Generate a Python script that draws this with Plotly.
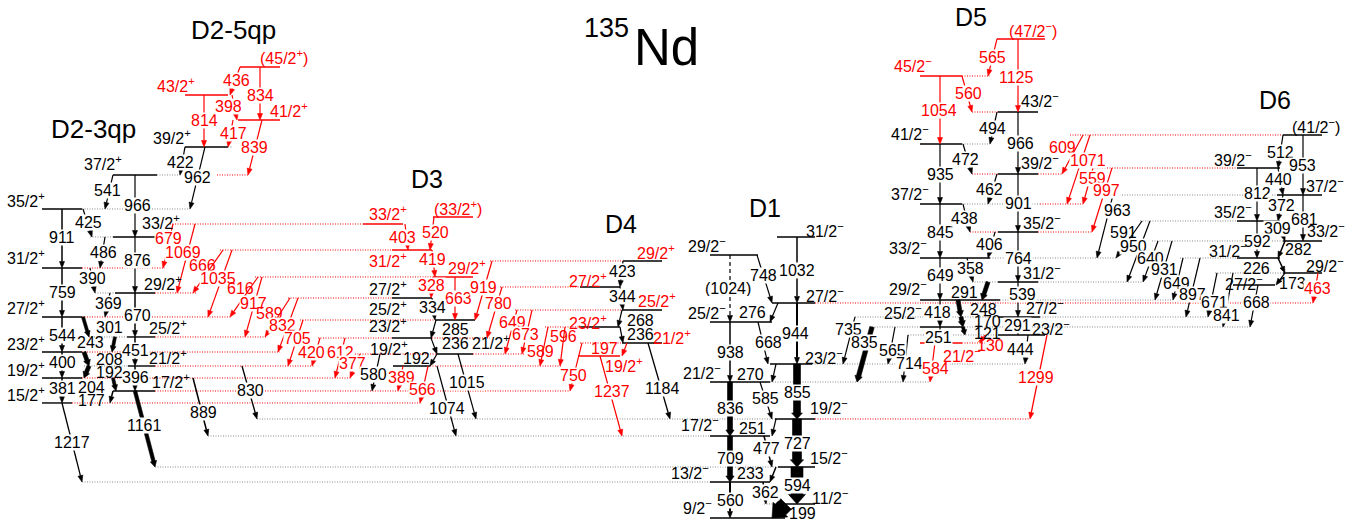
import math
import plotly.graph_objects as go

FONT = "Liberation Sans, Arial, sans-serif"
LABEL_SIZE = 16
KEV_PER_PX = 15.5      # vertical drawing scale
Y_ZERO_PX = 518        # pixel row of the 9/2- ground level
W, H = 1370, 525

# ------------------------------------------------------------------
# DATA: levels (id, spin-parity, energy in keV as drawn)
# ------------------------------------------------------------------
D1_LEVELS = [
    ("d1_9", "9/2-", 0), ("d1_11", "11/2-", 217), ("d1_13", "13/2-", 558),
    ("d1_15", "15/2-", 791), ("d1_17", "17/2-", 1271), ("d1_19", "19/2-", 1535),
    ("d1_21", "21/2-", 2108), ("d1_23", "23/2-", 2387), ("d1_25", "25/2-", 3038),
    ("d1_27", "27/2-", 3333), ("d1_29", "29/2-", 4077), ("d1_31", "31/2-", 4356),
]
D2_LEVELS = [
    ("d2_15", "15/2+", 1783), ("d2_17", "17/2+", 1969), ("d2_19", "19/2+", 2170),
    ("d2_21", "21/2+", 2356), ("d2_23", "23/2+", 2573), ("d2_25", "25/2+", 2806),
    ("d2_27", "27/2+", 3116), ("d2_29", "29/2+", 3488), ("d2_31", "31/2+", 3875),
    ("d2_33", "33/2+", 4356), ("d2_35", "35/2+", 4790), ("d2_37", "37/2+", 5317),
    ("d2_39", "39/2+", 5751), ("d2_41", "41/2+", 6169), ("d2_43", "43/2+", 6557),
    ("d2_45", "(45/2+)", 6991),
]
D3_LEVELS = [
    ("d3_19", "19/2+", 2356), ("d3_21", "21/2+", 2542), ("d3_23", "23/2+", 2790),
    ("d3_25", "25/2+", 3069), ("d3_27", "27/2+", 3410), ("d3_29", "29/2+", 3736),
    ("d3_31", "31/2+", 4154), ("d3_33", "33/2+", 4557), ("d3_33b", "(33/2+)", 4666),
]
D4_LEVELS = [
    ("d4_19", "19/2+", 2511), ("d4_21", "21/2+", 2713), ("d4_23", "23/2+", 2961),
    ("d4_25", "25/2+", 3224), ("d4_27", "27/2+", 3581), ("d4_29", "29/2+", 3984),
]
D5_LEVELS = [
    ("d5_21", "21/2-", 2713), ("d5_23", "23/2-", 2837), ("d5_25", "25/2-", 2961),
    ("d5_27", "27/2-", 3116), ("d5_29", "29/2-", 3379), ("d5_31", "31/2-", 3658),
    ("d5_33", "33/2-", 4030), ("d5_35", "35/2-", 4433), ("d5_37", "37/2-", 4867),
    ("d5_39", "39/2-", 5332), ("d5_41", "41/2-", 5797), ("d5_43", "43/2-", 6293),
    ("d5_45", "45/2-", 6851), ("d5_47", "(47/2-)", 7425),
]
D6_LEVELS = [
    ("d6_27", "27/2-", 3612), ("d6_29", "29/2-", 3798), ("d6_31", "31/2-", 4030),
    ("d6_33", "33/2-", 4294), ("d6_35", "35/2-", 4604), ("d6_37", "37/2-", 5007),
    ("d6_39", "39/2-", 5425), ("d6_41", "(41/2-)", 5937),
]

# DATA: gamma transitions (energy label, initial level, final level)
D1_GAMMAS = [
    ("1032", "d1_31", "d1_27"), ("748", "d1_29", "d1_27"), ("(1024)", "d1_29", "d1_25"),
    ("276", "d1_27", "d1_25"), ("944", "d1_27", "d1_23"), ("668", "d1_25", "d1_23"),
    ("938", "d1_25", "d1_21"), ("270", "d1_23", "d1_21"), ("855", "d1_23", "d1_19"),
    ("836", "d1_21", "d1_17"), ("585", "d1_21", "d1_19"), ("251", "d1_19", "d1_17"),
    ("727", "d1_19", "d1_15"), ("709", "d1_17", "d1_13"), ("477", "d1_17", "d1_15"),
    ("233", "d1_15", "d1_13"), ("594", "d1_15", "d1_11"), ("560", "d1_13", "d1_9"),
    ("362", "d1_13", "d1_11"), ("199", "d1_11", "d1_9"),
]
D2_GAMMAS = [
    ("1217", "d2_15", "d1_13"), ("381", "d2_19", "d2_15"), ("400", "d2_23", "d2_19"),
    ("544", "d2_27", "d2_23"), ("759", "d2_31", "d2_27"), ("911", "d2_35", "d2_31"),
    ("1161", "d2_17", "d1_15"), ("396", "d2_21", "d2_17"), ("451", "d2_25", "d2_21"),
    ("670", "d2_29", "d2_25"), ("876", "d2_33", "d2_29"), ("966", "d2_37", "d2_33"),
    ("541", "d2_37", "d2_35"), ("425", "d2_35", "d2_33"), ("486", "d2_33", "d2_31"),
    ("390", "d2_31", "d2_29"), ("369", "d2_29", "d2_27"), ("301", "d2_27", "d2_25"),
    ("243", "d2_25", "d2_23"), ("208", "d2_23", "d2_21"), ("192", "d2_21", "d2_19"),
    ("204", "d2_19", "d2_17"), ("177", "d2_17", "d2_15"), ("422", "d2_39", "d2_37"),
    ("962", "d2_39", "d2_35"), ("814", "d2_43", "d2_39"), ("436", "d2_45", "d2_43"),
    ("834", "d2_45", "d2_41"), ("398", "d2_43", "d2_41"), ("417", "d2_41", "d2_39"),
    ("839", "d2_41", "d2_37"), ("830", "d2_21", "d1_19"), ("889", "d2_19", "d1_17"),
]
D3_GAMMAS = [
    ("520", "d3_33b", "d3_31"), ("403", "d3_33", "d3_31"), ("419", "d3_31", "d3_29"),
    ("328", "d3_29", "d3_27"), ("663", "d3_29", "d3_25"), ("334", "d3_27", "d3_25"),
    ("285", "d3_25", "d3_23"), ("236", "d3_23", "d3_21"), ("192", "d3_21", "d3_19"),
    ("1015", "d3_21", "d1_19"), ("1074", "d3_19", "d1_17"),
    ("679", "d3_33", "d2_31"), ("1069", "d3_33", "d2_29"), ("666", "d3_31", "d2_29"),
    ("1035", "d3_31", "d2_27"), ("616", "d3_29", "d2_27"), ("917", "d3_29", "d2_25"),
    ("589", "d3_27", "d2_25"), ("832", "d3_27", "d2_23"), ("705", "d3_25", "d2_21"),
    ("420", "d3_23", "d2_21"), ("612", "d3_23", "d2_19"), ("377", "d3_21", "d2_19"),
    ("580", "d3_21", "d2_17"), ("389", "d3_19", "d2_17"), ("566", "d3_19", "d2_15"),
]
D4_GAMMAS = [
    ("423", "d4_29", "d4_27"), ("344", "d4_27", "d4_25"), ("268", "d4_25", "d4_23"),
    ("236", "d4_23", "d4_21"), ("197", "d4_21", "d4_19"), ("1237", "d4_19", "d1_17"),
    ("1184", "d4_21", "d1_19"), ("750", "d4_21", "d2_17"), ("919", "d4_29", "d3_25"),
    ("780", "d4_27", "d3_23"), ("649", "d4_25", "d3_21"), ("673", "d4_25", "d3_21"),
    ("596", "d4_23", "d3_19"), ("589", "d4_23", "d3_19"),
]
D5_GAMMAS = [
    ("565", "d5_47", "d5_45"), ("1125", "d5_47", "d5_43"), ("1054", "d5_45", "d5_41"),
    ("560", "d5_45", "d5_43"), ("494", "d5_43", "d5_41"), ("966", "d5_43", "d5_39"),
    ("935", "d5_41", "d5_37"), ("472", "d5_41", "d5_39"), ("462", "d5_39", "d5_37"),
    ("901", "d5_39", "d5_35"), ("845", "d5_37", "d5_33"), ("438", "d5_37", "d5_35"),
    ("406", "d5_35", "d5_33"), ("764", "d5_35", "d5_31"), ("649", "d5_33", "d5_29"),
    ("358", "d5_33", "d5_31"), ("291", "d5_31", "d5_29"), ("539", "d5_31", "d5_27"),
    ("418", "d5_29", "d5_25"), ("248", "d5_29", "d5_27"), ("170", "d5_27", "d5_25"),
    ("251", "d5_25", "d5_21"), ("291", "d5_27", "d5_23"), ("121", "d5_25", "d5_23"),
    ("130", "d5_23", "d5_21"), ("444", "d5_23", "d1_23"), ("1299", "d5_23", "d1_19"),
    ("735", "d5_27", "d1_23"), ("835", "d5_25", "d1_21"), ("565", "d5_25", "d1_23"),
    ("714", "d5_23", "d1_21"), ("584", "d5_21", "d1_21"),
]
D6_GAMMAS = [
    ("512", "d6_41", "d6_39"), ("953", "d6_41", "d6_37"), ("440", "d6_39", "d6_37"),
    ("812", "d6_39", "d6_35"), ("372", "d6_37", "d6_35"), ("681", "d6_37", "d6_33"),
    ("309", "d6_35", "d6_33"), ("592", "d6_35", "d6_31"), ("282", "d6_33", "d6_31"),
    ("226", "d6_31", "d6_29"), ("173", "d6_29", "d6_27"), ("463", "d6_29", "d1_27"),
    ("609", "d6_41", "d5_39"), ("1071", "d6_41", "d5_37"), ("559", "d6_39", "d5_37"),
    ("997", "d6_39", "d5_35"), ("963", "d6_37", "d5_33"), ("591", "d6_35", "d5_33"),
    ("950", "d6_35", "d5_31"), ("640", "d6_33", "d5_31"), ("931", "d6_33", "d5_29"),
    ("649", "d6_31", "d5_29"), ("897", "d6_31", "d5_27"), ("671", "d6_29", "d5_27"),
    ("841", "d6_29", "d5_25"), ("668", "d6_27", "d5_25"),
]

BAND_TITLES = ["D2-5qp", "D2-3qp", "D3", "D4", "D1", "D5", "D6"]

# ------------------------------------------------------------------
# LAYOUT (horizontal placement, label placement in px, styles)
# level: (x0, x1, line colour, label x, label y px, label colour)
# ------------------------------------------------------------------
LEVEL_GEOM = {
    "d1_9": (710, 785, 'k', 697, 507, 'k'), "d1_11": (778, 815, 'k', 830, 497, 'k'),
    "d1_13": (710, 770, 'k', 690, 472, 'k'), "d1_15": (778, 815, 'k', 829, 457, 'k'),
    "d1_17": (710, 770, 'k', 700, 424, 'k'), "d1_19": (775, 815, 'k', 829, 407, 'k'),
    "d1_21": (710, 770, 'k', 702, 372, 'k'), "d1_23": (770, 812, 'k', 824, 357, 'k'),
    "d1_25": (710, 772, 'k', 707, 312, 'k'), "d1_27": (772, 815, 'k', 825, 295, 'k'),
    "d1_29": (710, 758, 'k', 707, 245, 'k'), "d1_31": (777, 815, 'k', 825, 230, 'k'),
    "d2_15": (42, 72, 'k', 26, 394, 'k'), "d2_17": (113, 155, 'k', 171, 381, 'k'),
    "d2_19": (42, 82, 'k', 26, 369, 'k'), "d2_21": (128, 155, 'k', 168, 357, 'k'),
    "d2_23": (42, 82, 'k', 26, 343, 'k'), "d2_25": (127, 155, 'k', 168, 327, 'k'),
    "d2_27": (42, 82, 'k', 26, 307, 'k'), "d2_29": (115, 155, 'k', 163, 283, 'k'),
    "d2_31": (42, 82, 'k', 26, 257, 'k'), "d2_33": (113, 155, 'k', 161, 222, 'k'),
    "d2_35": (42, 82, 'k', 26, 200, 'k'), "d2_37": (113, 157, 'k', 103, 163, 'k'),
    "d2_39": (185, 228, 'k', 172, 137, 'k'), "d2_41": (238, 280, 'r', 289, 110, 'r'),
    "d2_43": (185, 228, 'r', 176, 85, 'r'), "d2_45": (240, 280, 'r', 284, 57, 'r'),
    "d3_19": (393, 430, 'k', 389, 348, 'k'), "d3_21": (437, 473, 'k', 491, 342, 'k'),
    "d3_23": (392, 432, 'k', 388, 325, 'k'), "d3_25": (435, 475, 'k', 388, 308, 'k'),
    "d3_27": (392, 432, 'k', 388, 288, 'k'), "d3_29": (433, 473, 'r', 467, 267, 'r'),
    "d3_31": (392, 432, 'r', 388, 260, 'r'), "d3_33": (363, 403, 'r', 388, 213, 'r'),
    "d3_33b": (433, 473, 'r', 458, 208, 'r'),
    "d4_19": (578, 620, 'r', 624, 365, 'r'), "d4_21": (622, 662, 'k', 672, 337, 'r'),
    "d4_23": (580, 620, 'k', 588, 322, 'r'), "d4_25": (622, 662, 'k', 657, 300, 'r'),
    "d4_27": (580, 620, 'k', 588, 280, 'r'), "d4_29": (623, 662, 'k', 656, 252, 'r'),
    "d5_21": (920, 962, 'r', 962, 355, 'r'), "d5_23": (998, 1045, 'k', 1051, 328, 'k'),
    "d5_25": (920, 962, 'k', 903, 312, 'k'), "d5_27": (998, 1040, 'k', 1045, 307, 'k'),
    "d5_29": (920, 1000, 'k', 908, 288, 'k'), "d5_31": (998, 1038, 'k', 1042, 272, 'k'),
    "d5_33": (920, 990, 'k', 908, 247, 'k'), "d5_35": (998, 1038, 'k', 1042, 222, 'k'),
    "d5_37": (920, 962, 'k', 910, 193, 'k'), "d5_39": (998, 1038, 'k', 1040, 162, 'k'),
    "d5_41": (920, 962, 'k', 910, 133, 'k'), "d5_43": (998, 1038, 'k', 1040, 100, 'k'),
    "d5_45": (920, 962, 'r', 913, 65, 'r'), "d5_47": (997, 1045, 'r', 1033, 30, 'r'),
    "d6_27": (1233, 1275, 'k', 1244, 283, 'k'), "d6_29": (1283, 1322, 'k', 1325, 265, 'k'),
    "d6_31": (1237, 1280, 'k', 1228, 250, 'k'), "d6_33": (1283, 1322, 'k', 1326, 230, 'k'),
    "d6_35": (1237, 1280, 'k', 1233, 211, 'k'), "d6_37": (1277, 1322, 'k', 1325, 185, 'k'),
    "d6_39": (1237, 1280, 'k', 1233, 159, 'k'), "d6_41": (1283, 1322, 'k', 1316, 126, 'k'),
}
# dotted extensions of levels: (level, x from, x to, colour)
LEVEL_EXT = [
    ("d1_13", 82, 710, 'g'), ("d1_15", 155, 778, 'g'), ("d1_17", 208, 710, 'g'),
    ("d1_19", 257, 775, 'g'), ("d1_19", 815, 1030, 'r'), ("d1_21", 770, 930, 'g'),
    ("d1_23", 812, 1025, 'g'), ("d1_27", 815, 1313, 'r'), ("d1_11", 764, 778, 'g'),
    ("d2_15", 72, 422, 'r'), ("d2_17", 155, 570, 'r'), ("d2_19", 82, 352, 'r'),
    ("d2_21", 155, 315, 'r'), ("d2_21", 84, 128, 'g'), ("d2_23", 82, 280, 'r'),
    ("d2_25", 155, 267, 'r'), ("d2_25", 89, 127, 'g'), ("d2_27", 82, 232, 'r'),
    ("d2_29", 155, 197, 'r'), ("d2_29", 95, 115, 'g'), ("d2_31", 82, 165, 'r'),
    ("d2_33", 90, 113, 'g'), ("d2_35", 82, 190, 'g'), ("d2_37", 157, 182, 'g'),
    ("d2_37", 217, 248, 'r'), ("d2_39", 228, 232, 'g'),
    ("d3_33", 170, 363, 'r'), ("d3_31", 220, 392, 'r'), ("d3_29", 255, 433, 'r'),
    ("d3_27", 288, 392, 'r'), ("d3_25", 300, 435, 'r'), ("d3_23", 318, 392, 'r'),
    ("d3_23", 432, 490, 'r'), ("d3_21", 355, 437, 'r'), ("d3_21", 473, 525, 'r'),
    ("d3_19", 430, 562, 'r'),
    ("d4_29", 490, 623, 'r'), ("d4_27", 500, 580, 'r'), ("d4_25", 515, 622, 'r'),
    ("d4_23", 545, 580, 'r'), ("d4_21", 580, 622, 'r'),
    ("d5_45", 962, 990, 'r'), ("d5_43", 972, 998, 'r'), ("d5_41", 962, 990, 'g'),
    ("d5_39", 972, 998, 'r'), ("d5_39", 1038, 1062, 'r'), ("d5_37", 962, 1040, 'g'),
    ("d5_37", 1040, 1083, 'r'), ("d5_35", 970, 998, 'r'), ("d5_35", 1038, 1092, 'r'),
    ("d5_33", 990, 1116, 'g'), ("d5_31", 972, 998, 'g'), ("d5_31", 1038, 1143, 'g'),
    ("d5_29", 1000, 1173, 'g'), ("d5_27", 855, 998, 'g'), ("d5_27", 1040, 1208, 'g'),
    ("d5_25", 872, 920, 'g'), ("d5_25", 962, 1250, 'g'), ("d5_23", 908, 998, 'g'),
    ("d5_21", 962, 985, 'r'),
    ("d6_41", 1070, 1283, 'r'), ("d6_39", 1092, 1237, 'r'), ("d6_37", 1112, 1277, 'g'),
    ("d6_35", 1140, 1237, 'g'), ("d6_33", 1152, 1283, 'g'), ("d6_31", 1180, 1237, 'g'),
    ("d6_29", 1215, 1283, 'g'),
]
# gamma drawing: key "label@initial" -> (x at top, x at bottom, width px, colour, label x, label y px)
GAMMA_DRAW = {
    "1032@d1_31": (797, 797, 1.5, 'k', 797, 270), "748@d1_29": (757, 772, 1.2, 'k', 763, 275),
    "(1024)@d1_29": (730, 730, 1.2, 'kd', 728, 288), "276@d1_27": (778, 770, 1.2, 'k', 752, 312),
    "944@d1_27": (797, 797, 2.0, 'k', 795, 333), "668@d1_25": (758, 768, 1.2, 'k', 768, 342),
    "938@d1_25": (730, 730, 1.5, 'k', 730, 352), "270@d1_23": (776, 772, 1.2, 'k', 750, 374),
    "855@d1_23": (797, 797, 7, 'k', 797, 392), "836@d1_21": (730, 730, 5, 'k', 730, 408),
    "585@d1_21": (760, 772, 1.2, 'k', 765, 398), "251@d1_19": (776, 772, 1.2, 'k', 752, 428),
    "727@d1_19": (797, 797, 9, 'k', 797, 443), "709@d1_17": (730, 730, 5, 'k', 730, 458),
    "477@d1_17": (764, 772, 1.5, 'k', 766, 448), "233@d1_15": (776, 770, 1.5, 'k', 750, 473),
    "594@d1_15": (797, 797, 12, 'k', 797, 485), "560@d1_13": (730, 730, 2.0, 'k', 730, 500),
    "362@d1_13": (763, 766, 1.5, 'k', 765, 492), "199@d1_11": (786, 772, 15, 'k', 802, 513),
    "1217@d2_15": (62, 82, 1.3, 'k', 72, 442), "381@d2_19": (62, 62, 1.5, 'k', 62, 388),
    "400@d2_23": (62, 62, 1.5, 'k', 62, 362), "544@d2_27": (62, 62, 1.5, 'k', 62, 335),
    "759@d2_31": (62, 62, 1.5, 'k', 62, 292), "911@d2_35": (62, 62, 1.5, 'k', 62, 237),
    "1161@d2_17": (135, 155, 3.5, 'k', 144, 425), "396@d2_21": (135, 135, 1.5, 'k', 135, 377),
    "451@d2_25": (135, 135, 1.5, 'k', 135, 350), "670@d2_29": (135, 135, 1.5, 'k', 137, 315),
    "876@d2_33": (135, 135, 1.2, 'k', 137, 260), "966@d2_37": (135, 135, 1.2, 'k', 137, 205),
    "541@d2_37": (113, 105, 1.2, 'k', 107, 190), "425@d2_35": (83, 92, 1.2, 'k', 88, 222),
    "486@d2_33": (105, 100, 1.2, 'k', 103, 252), "390@d2_31": (90, 95, 1.2, 'k', 92, 278),
    "369@d2_29": (110, 105, 1.2, 'k', 108, 303), "301@d2_27": (83, 89, 3, 'k', 109, 327),
    "243@d2_25": (115, 112, 3, 'k', 90, 342), "208@d2_23": (84, 89, 4, 'k', 109, 359),
    "192@d2_21": (89, 84, 4, 'k', 109, 372), "204@d2_19": (113, 116, 3, 'k', 91, 387),
    "177@d2_17": (113, 110, 1.5, 'k', 91, 400), "422@d2_39": (185, 180, 1.2, 'k', 180, 162),
    "962@d2_39": (205, 190, 1.2, 'k', 197, 177), "814@d2_43": (204, 204, 1.2, 'r', 204, 120),
    "436@d2_45": (240, 230, 1.2, 'r', 236, 80), "834@d2_45": (260, 260, 1.2, 'r', 260, 95),
    "398@d2_43": (232, 237, 1.2, 'r', 228, 106), "417@d2_41": (233, 228, 1.2, 'r', 233, 133),
    "839@d2_41": (262, 248, 1.2, 'r', 254, 147), "830@d2_21": (242, 257, 1.3, 'k', 250, 390),
    "889@d2_19": (193, 208, 1.5, 'k', 203, 412),
    "520@d3_33b": (434, 430, 1.2, 'r', 435, 232), "403@d3_33": (405, 408, 1.2, 'r', 402, 237),
    "419@d3_31": (432, 435, 1.2, 'r', 432, 259), "328@d3_29": (433, 431, 1.2, 'r', 431, 285),
    "663@d3_29": (455, 455, 1.2, 'r', 458, 298), "334@d3_27": (432, 435, 1.2, 'k', 432, 307),
    "285@d3_25": (436, 431, 1.2, 'k', 455, 329), "236@d3_23": (431, 437, 1.2, 'k', 455, 343),
    "192@d3_21": (437, 430, 1.2, 'k', 416, 358), "1015@d3_21": (458, 476, 1.2, 'k', 467, 382),
    "1074@d3_19": (437, 456, 1.2, 'k', 447, 408),
    "679@d3_33": (173, 163, 1.2, 'r', 168, 238), "1069@d3_33": (195, 177, 1.2, 'r', 183, 252),
    "666@d3_31": (223, 193, 1.2, 'r', 202, 265), "1035@d3_31": (232, 208, 1.2, 'r', 218, 278),
    "616@d3_29": (258, 230, 1.2, 'r', 240, 288), "917@d3_29": (262, 245, 1.2, 'r', 253, 303),
    "589@d3_27": (290, 265, 1.2, 'r', 269, 313), "832@d3_27": (298, 278, 1.2, 'r', 282, 325),
    "705@d3_25": (303, 288, 1.2, 'r', 297, 338), "420@d3_23": (320, 312, 1.2, 'r', 311, 352),
    "612@d3_23": (345, 335, 1.2, 'r', 340, 352), "377@d3_21": (360, 350, 1.2, 'r', 352, 363),
    "580@d3_21": (380, 372, 1.2, 'k', 373, 374), "389@d3_19": (403, 398, 1.2, 'r', 401, 377),
    "566@d3_19": (428, 420, 1.2, 'r', 422, 389),
    "423@d4_29": (623, 620, 1.2, 'k', 622, 271), "344@d4_27": (620, 623, 1.2, 'k', 622, 296),
    "268@d4_25": (622, 618, 1.2, 'k', 640, 320), "236@d4_23": (620, 623, 1.2, 'k', 640, 334),
    "197@d4_21": (627, 622, 1.2, 'r', 604, 348), "1237@d4_19": (600, 622, 1.2, 'r', 612, 391),
    "1184@d4_21": (648, 670, 1.3, 'k', 662, 388), "750@d4_21": (582, 570, 1.2, 'r', 573, 375),
    "919@d4_29": (492, 475, 1.2, 'r', 483, 287), "780@d4_27": (502, 487, 1.2, 'r', 498, 303),
    "649@d4_25": (517, 505, 1.2, 'r', 512, 322), "673@d4_25": (532, 522, 1.2, 'r', 525, 334),
    "596@d4_23": (548, 540, 1.2, 'r', 563, 336), "589@d4_23": (565, 560, 1.2, 'r', 540, 351),
    "565@d5_47": (997, 988, 1.2, 'r', 992, 57), "1125@d5_47": (1018, 1018, 1.2, 'r', 1016, 77),
    "1054@d5_45": (940, 940, 1.2, 'r', 939, 110), "560@d5_45": (962, 972, 1.2, 'r', 968, 93),
    "494@d5_43": (997, 990, 1.2, 'k', 992, 128), "966@d5_43": (1018, 1018, 1.2, 'k', 1020, 143),
    "935@d5_41": (940, 940, 1.2, 'k', 940, 174), "472@d5_41": (963, 972, 1.2, 'k', 965, 159),
    "462@d5_39": (997, 988, 1.2, 'k', 989, 189), "901@d5_39": (1018, 1018, 1.2, 'k', 1018, 203),
    "845@d5_37": (940, 940, 1.2, 'k', 940, 232), "438@d5_37": (963, 970, 1.2, 'k', 964, 218),
    "406@d5_35": (995, 988, 1.2, 'k', 989, 244), "764@d5_35": (1018, 1018, 1.2, 'k', 1018, 258),
    "649@d5_33": (940, 940, 1.2, 'k', 940, 275), "358@d5_33": (967, 973, 1.2, 'k', 970, 268),
    "291@d5_31": (988, 982, 4, 'k', 964, 292), "539@d5_31": (1018, 1018, 1.2, 'k', 1022, 294),
    "418@d5_29": (940, 940, 1.2, 'k', 937, 312), "248@d5_29": (958, 961, 4, 'k', 983, 309),
    "170@d5_27": (961, 963, 4, 'k', 987, 321), "251@d5_25": (940, 940, 1.2, 'k', 938, 337),
    "291@d5_27": (1018, 1018, 1.2, 'k', 1017, 325), "121@d5_25": (963, 965, 3, 'k', 987, 333),
    "130@d5_23": (985, 980, 1.2, 'r', 990, 345), "444@d5_23": (1028, 1025, 1.2, 'k', 1020, 349),
    "1299@d5_23": (1047, 1030, 1.3, 'r', 1036, 377), "735@d5_27": (855, 843, 1.2, 'k', 848, 329),
    "835@d5_25": (872, 857, 4.5, 'k', 864, 342), "565@d5_25": (895, 888, 1.2, 'k', 892, 350),
    "714@d5_23": (908, 903, 1.2, 'k', 909, 363), "584@d5_21": (935, 930, 1.2, 'r', 935, 368),
    "512@d6_41": (1283, 1278, 1.2, 'k', 1280, 152), "953@d6_41": (1303, 1303, 1.2, 'k', 1302, 165),
    "440@d6_39": (1278, 1283, 1.2, 'k', 1278, 179), "812@d6_39": (1257, 1257, 1.2, 'k', 1257, 193),
    "372@d6_37": (1283, 1278, 1.2, 'k', 1281, 205), "681@d6_37": (1303, 1303, 1.2, 'k', 1304, 219),
    "309@d6_35": (1278, 1285, 1.2, 'k', 1277, 228), "592@d6_35": (1257, 1257, 1.2, 'k', 1257, 241),
    "282@d6_33": (1285, 1278, 1.5, 'k', 1298, 249), "226@d6_31": (1278, 1285, 1.5, 'k', 1256, 268),
    "173@d6_29": (1285, 1276, 1.2, 'k', 1292, 283), "463@d6_29": (1318, 1313, 1.2, 'r', 1317, 288),
    "609@d6_41": (1083, 1062, 1.2, 'r', 1062, 147), "1071@d6_41": (1090, 1067, 1.2, 'r', 1088, 160),
    "559@d6_39": (1093, 1083, 1.2, 'r', 1092, 178), "997@d6_39": (1112, 1092, 1.2, 'r', 1106, 190),
    "963@d6_37": (1113, 1097, 1.2, 'k', 1117, 210), "591@d6_35": (1142, 1116, 1.2, 'k', 1123, 232),
    "950@d6_35": (1150, 1127, 1.2, 'k', 1133, 246), "640@d6_33": (1158, 1143, 1.2, 'k', 1150, 258),
    "931@d6_33": (1172, 1155, 1.2, 'k', 1164, 269), "649@d6_31": (1183, 1173, 1.2, 'k', 1176, 283),
    "897@d6_31": (1200, 1186, 1.2, 'k', 1192, 294), "671@d6_29": (1217, 1208, 1.2, 'k', 1214, 302),
    "841@d6_29": (1233, 1223, 1.2, 'k', 1226, 315), "668@d6_27": (1258, 1250, 1.2, 'k', 1256, 302),
}
# band titles: (x px, y px, font size)
TITLE_POS = {
    "D2-5qp": (233, 30, 26), "D2-3qp": (93, 129, 26), "D3": (427, 179, 25),
    "D4": (621, 224, 25), "D1": (765, 208, 25), "D5": (971, 17, 25), "D6": (1275, 100, 25),
}

COLORS = {'k': '#000000', 'r': '#ff0000', 'g': '#8a8a8a'}

# ------------------------------------------------------------------
LEVELS = D1_LEVELS + D2_LEVELS + D3_LEVELS + D4_LEVELS + D5_LEVELS + D6_LEVELS
GAMMAS = D1_GAMMAS + D2_GAMMAS + D3_GAMMAS + D4_GAMMAS + D5_GAMMAS + D6_GAMMAS
ENERGY = {lid: e for lid, s, e in LEVELS}
SPIN = {lid: s for lid, s, e in LEVELS}


def ypx(e):
    return Y_ZERO_PX - e / KEV_PER_PX


def ydat(py):
    return (Y_ZERO_PX - py) * KEV_PER_PX


def fmt_spin(s):
    sign = '+' if '+' in s else '\u2212'
    core = s.replace('+', '').replace('-', '')
    if core.endswith(')'):
        return core[:-1] + "<sup>" + sign + "</sup>)"
    return core + "<sup>" + sign + "</sup>"


line_groups = {}
poly_groups = {}


def add_line(color, width, dash, x0, y0, x1, y1):
    xs, ys = line_groups.setdefault((color, width, dash), ([], []))
    xs += [x0, x1, None]
    ys += [ydat(y0), ydat(y1), None]


def add_poly(color, pts):
    xs, ys = poly_groups.setdefault(color, ([], []))
    for px, py in pts:
        xs.append(px)
        ys.append(ydat(py))
    xs += [pts[0][0], None]
    ys += [ydat(pts[0][1]), None]


# dotted extensions first
for lid, xa, xb, c in LEVEL_EXT:
    y = ypx(ENERGY[lid])
    add_line(COLORS[c], 1.0, '1px,1.5px', xa, y, xb, y)

# solid level lines
for lid, (x0, x1, lc, lx, ly, tc) in LEVEL_GEOM.items():
    y = ypx(ENERGY[lid])
    add_line(COLORS[lc], 1.4, 'solid', x0, y, x1, y)

annotations = []
for lab, fr, to in GAMMAS:
    xf, xt, w, col, lx, ly = GAMMA_DRAW[lab + "@" + fr]
    c = COLORS[col[0]]
    dash = '4px,3px' if col.endswith('d') else 'solid'
    y0, y1 = ypx(ENERGY[fr]), ypx(ENERGY[to])
    dx, dy = xt - xf, y1 - y0
    L = math.hypot(dx, dy)
    ux, uy = dx / L, dy / L
    nx, ny = -uy, ux
    if w < 2.5:
        hl, hw = 6.5, 5.0
        bx, by = xt - ux * hl, y1 - uy * hl
        add_line(c, w, dash, xf, y0, bx, by)
        add_poly(c, [(xt, y1), (bx + nx * hw / 2, by + ny * hw / 2),
                     (bx - nx * hw / 2, by - ny * hw / 2)])
    else:
        hl = min(max(6.0, 0.8 * w), 0.6 * L)
        hw = 1.25 * w + 2
        bx, by = xt - ux * hl, y1 - uy * hl
        h, hh = w / 2, hw / 2
        add_poly(c, [(xf + nx * h, y0 + ny * h), (bx + nx * h, by + ny * h),
                     (bx + nx * hh, by + ny * hh), (xt, y1),
                     (bx - nx * hh, by - ny * hh), (bx - nx * h, by - ny * h),
                     (xf - nx * h, y0 - ny * h)])
    t = max(0.0, min(1.0, ((lx - xf) * dx + (ly - y0) * dy) / (L * L)))
    dist = math.hypot(lx - (xf + t * dx), ly - (y0 + t * dy))
    on_line = dist < 8
    ann = dict(x=lx, y=ydat(ly), text=lab, showarrow=False, xanchor='center',
               yanchor='middle', font=dict(family=FONT, size=LABEL_SIZE, color=c))
    if on_line:
        ann.update(bgcolor='white', height=15, borderpad=0)
    annotations.append(ann)

for lid, (x0, x1, lc, lx, ly, tc) in LEVEL_GEOM.items():
    annotations.append(dict(
        x=lx, y=ydat(ly), text=fmt_spin(SPIN[lid]), showarrow=False,
        xanchor='center', yanchor='middle',
        font=dict(family=FONT, size=LABEL_SIZE, color=COLORS[tc])))

for name in BAND_TITLES:
    tx, ty, fs = TITLE_POS[name]
    annotations.append(dict(x=tx, y=ydat(ty), text=name, showarrow=False,
                            xanchor='center', yanchor='middle',
                            font=dict(family=FONT, size=fs, color='black')))

annotations.append(dict(x=631, y=ydat(28), text="135", showarrow=False, xanchor='right',
                        yanchor='middle', font=dict(family=FONT, size=27, color='black')))
annotations.append(dict(x=632, y=ydat(47), text="Nd", showarrow=False, xanchor='left',
                        yanchor='middle', font=dict(family=FONT, size=51, color='black')))

fig = go.Figure()
for (color, width, dash), (xs, ys) in line_groups.items():
    fig.add_trace(go.Scatter(x=xs, y=ys, mode='lines', hoverinfo='skip',
                             line=dict(color=color, width=width, dash=dash)))
for color, (xs, ys) in poly_groups.items():
    fig.add_trace(go.Scatter(x=xs, y=ys, mode='lines', fill='toself', fillcolor=color,
                             hoverinfo='skip', line=dict(color=color, width=0.6)))

fig.update_layout(
    width=W, height=H, margin=dict(l=0, r=0, t=0, b=0),
    paper_bgcolor='white', plot_bgcolor='white', showlegend=False,
    xaxis=dict(range=[0, W], visible=False, fixedrange=True),
    yaxis=dict(range=[ydat(H), ydat(0)], visible=False, fixedrange=True),
    annotations=annotations,
)
fig.write_html("out.html", config={"displayModeBar": False, "staticPlot": True},
               post_script="document.body.style.margin='0';")
